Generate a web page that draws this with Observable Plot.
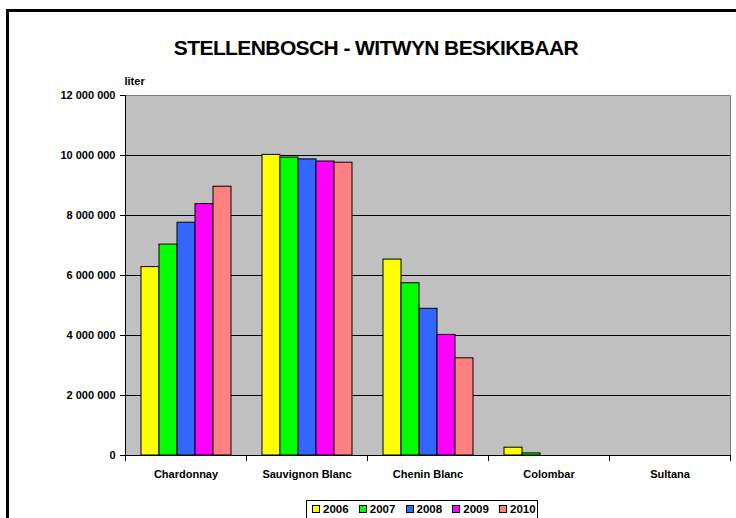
<!DOCTYPE html>
<html>
<head>
<meta charset="utf-8">
<script src="https://cdn.jsdelivr.net/npm/d3@7"></script>
<script src="https://cdn.jsdelivr.net/npm/@observablehq/plot@0.6"></script>
<style>
  html, body { margin: 0; padding: 0; background: #fff; width: 736px; height: 518px; overflow: hidden; }
  body { position: relative; font-family: "Liberation Sans", Arial, sans-serif; }
  #frame { position: absolute; left: 6px; top: 9px; width: 800px; height: 600px; border: 3px solid #000; box-sizing: border-box; pointer-events: none; }
  #title { position: absolute; left: 8px; top: 36px; width: 736px; text-align: center; font-weight: bold; font-size: 21px; letter-spacing: -0.6px; color: #000; }
  #chart { position: absolute; left: 0; top: 60px; }
  #legend { position: absolute; left: 306px; top: 500px; width: 232px; height: 24px; border: 1px solid #000; box-sizing: border-box; background: #fff; font-weight: bold; font-size: 11.5px; }
  .item { position: absolute; top: 1px; display: flex; align-items: center; height: 14px; line-height: 14px; }
  .sw { width: 6px; height: 6px; border: 1px solid #000; margin-right: 3px; }
</style>
</head>
<body>
<div id="title">STELLENBOSCH - WITWYN BESKIKBAAR</div>
<div id="chart"></div>
<div id="legend"></div>
<div id="frame"></div>
<script>
// ---- data ----
const categories = ["Chardonnay", "Sauvignon Blanc", "Chenin Blanc", "Colombar", "Sultana"];
const years = ["2006", "2007", "2008", "2009", "2010"];
const chardonnay = [6280000, 7030000, 7760000, 8380000, 8960000];
const sauvignonBlanc = [10020000, 9930000, 9870000, 9800000, 9760000];
const cheninBlanc = [6530000, 5740000, 4890000, 4020000, 3240000];
const colombar = [260000, 70000, 0, 0, 0];
const sultana = [0, 0, 0, 0, 0];
const yearColors = ["#FFFF00", "#00FF00", "#3366FF", "#FF00FF", "#FF8080"];
const yTicks = [0, 2000000, 4000000, 6000000, 8000000, 10000000, 12000000];

const series = [chardonnay, sauvignonBlanc, cheninBlanc, colombar, sultana];
const table = categories.flatMap((c, i) => years.map((y, j) => ({ category: c, year: y, value: series[i][j] })));

// ---- layout ----
const W = 736, H = 430, ML = 125, MR = 6, MT = 35, MB = 35;
const plotH = H - MT - MB;
const fmt = d3.formatLocale({ thousands: " ", grouping: [3], decimal: "," }).format(",");

const chart = Plot.plot({
  width: W, height: H,
  marginLeft: ML, marginRight: MR, marginTop: MT, marginBottom: MB,
  style: { background: "transparent", fontFamily: "'Liberation Sans', Arial, sans-serif", fontSize: "11px", fontWeight: "bold", color: "#000" },
  fx: { domain: categories, padding: 0, label: null },
  x: { type: "band", domain: years, paddingInner: 0, paddingOuter: 0.718, axis: null },
  y: { domain: [0, 12000000], label: null },
  color: { domain: years, range: yearColors },
  marks: [
    Plot.frame({ fill: "#C0C0C0", stroke: null, shapeRendering: "crispEdges" }),
    Plot.gridY(yTicks.slice(1, -1), { stroke: "#000", strokeOpacity: 1 }),
    Plot.frame({ anchor: "top", stroke: "#808080" }),
    Plot.barY(table, { fx: "category", x: "year", y: "value", fill: "year", stroke: "#000", strokeWidth: 1 }),
    Plot.frame({ anchor: "right", facetAnchor: "right", stroke: "#808080" }),
    Plot.frame({ anchor: "left", facetAnchor: "left", stroke: "#000" }),
    Plot.frame({ anchor: "bottom", stroke: "#000" }),
    Plot.frame({ anchor: "left", stroke: "#000", insetTop: plotH, insetBottom: -5 }),
    Plot.frame({ anchor: "right", stroke: "#000", insetTop: plotH, insetBottom: -5 }),
    Plot.axisY({ ticks: yTicks, tickFormat: fmt, tickSize: 5, tickPadding: 5, label: null, stroke: "#000" }),
    Plot.text(["liter"], { frameAnchor: "top-left", facetAnchor: "left", dx: -1, dy: -14, textAnchor: "start", lineAnchor: "middle", fontWeight: "bold", fontSize: 11 }),
    Plot.axisFx({ anchor: "bottom", tickSize: 0, tickPadding: 15, label: null })
  ]
});
document.getElementById("chart").appendChild(chart);

// ---- legend ----
const legend = document.getElementById("legend");
years.forEach((y, i) => {
  const it = document.createElement("div");
  it.className = "item";
  it.style.left = (5 + i * 46.75) + "px";
  const sw = document.createElement("div");
  sw.className = "sw";
  sw.style.background = yearColors[i];
  const tx = document.createElement("span");
  tx.textContent = y;
  it.appendChild(sw); it.appendChild(tx);
  legend.appendChild(it);
});
</script>
</body>
</html>
